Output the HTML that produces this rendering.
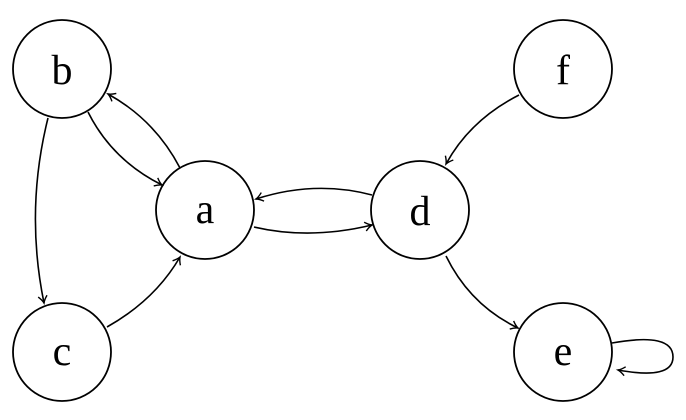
<!DOCTYPE html>
<html><head><style>body{margin:0;background:#fff}</style></head><body>
<svg width="686" height="415" viewBox="0 0 686 415" xmlns="http://www.w3.org/2000/svg">
<defs><marker id="m" markerWidth="12" markerHeight="12" refX="9" refY="6" orient="auto" markerUnits="userSpaceOnUse">
<path d="M2,1.5 Q6,5 9,6 Q6,7 2,10.5" fill="none" stroke="#000" stroke-width="1.4"/></marker></defs>
<g fill="none" stroke="#000" stroke-width="1.8">
<circle cx="62" cy="69" r="49"/><circle cx="205" cy="210" r="49"/><circle cx="420" cy="210" r="49"/>
<circle cx="563" cy="69" r="49"/><circle cx="62" cy="352" r="49"/><circle cx="563" cy="352" r="49"/>
</g>
<g fill="none" stroke="#000" stroke-width="1.6" marker-end="url(#m)">
<path d="M88,112 Q112,160 162,185"/>
<path d="M180,168 Q155,120 108,94"/>
<path d="M48,118 Q25,210 44,303"/>
<path d="M107,327 Q155,300 180,257"/>
<path d="M254,227 Q310,240 372,225"/>
<path d="M372,195 Q315,180 256,199"/>
<path d="M519,95 Q470,120 446,164"/>
<path d="M446,256 Q470,305 518,328"/>
<path d="M612,343 Q673,332 673,357 Q673,380 618,370"/>
</g>
<g font-family="Liberation Serif, serif" font-size="42" text-anchor="middle">
<text x="62" y="84">b</text><text x="205" y="223">a</text><text x="420" y="225">d</text>
<text x="563" y="84">f</text><text x="62" y="365">c</text><text x="563" y="365">e</text>
</g>
</svg>
</body></html>
